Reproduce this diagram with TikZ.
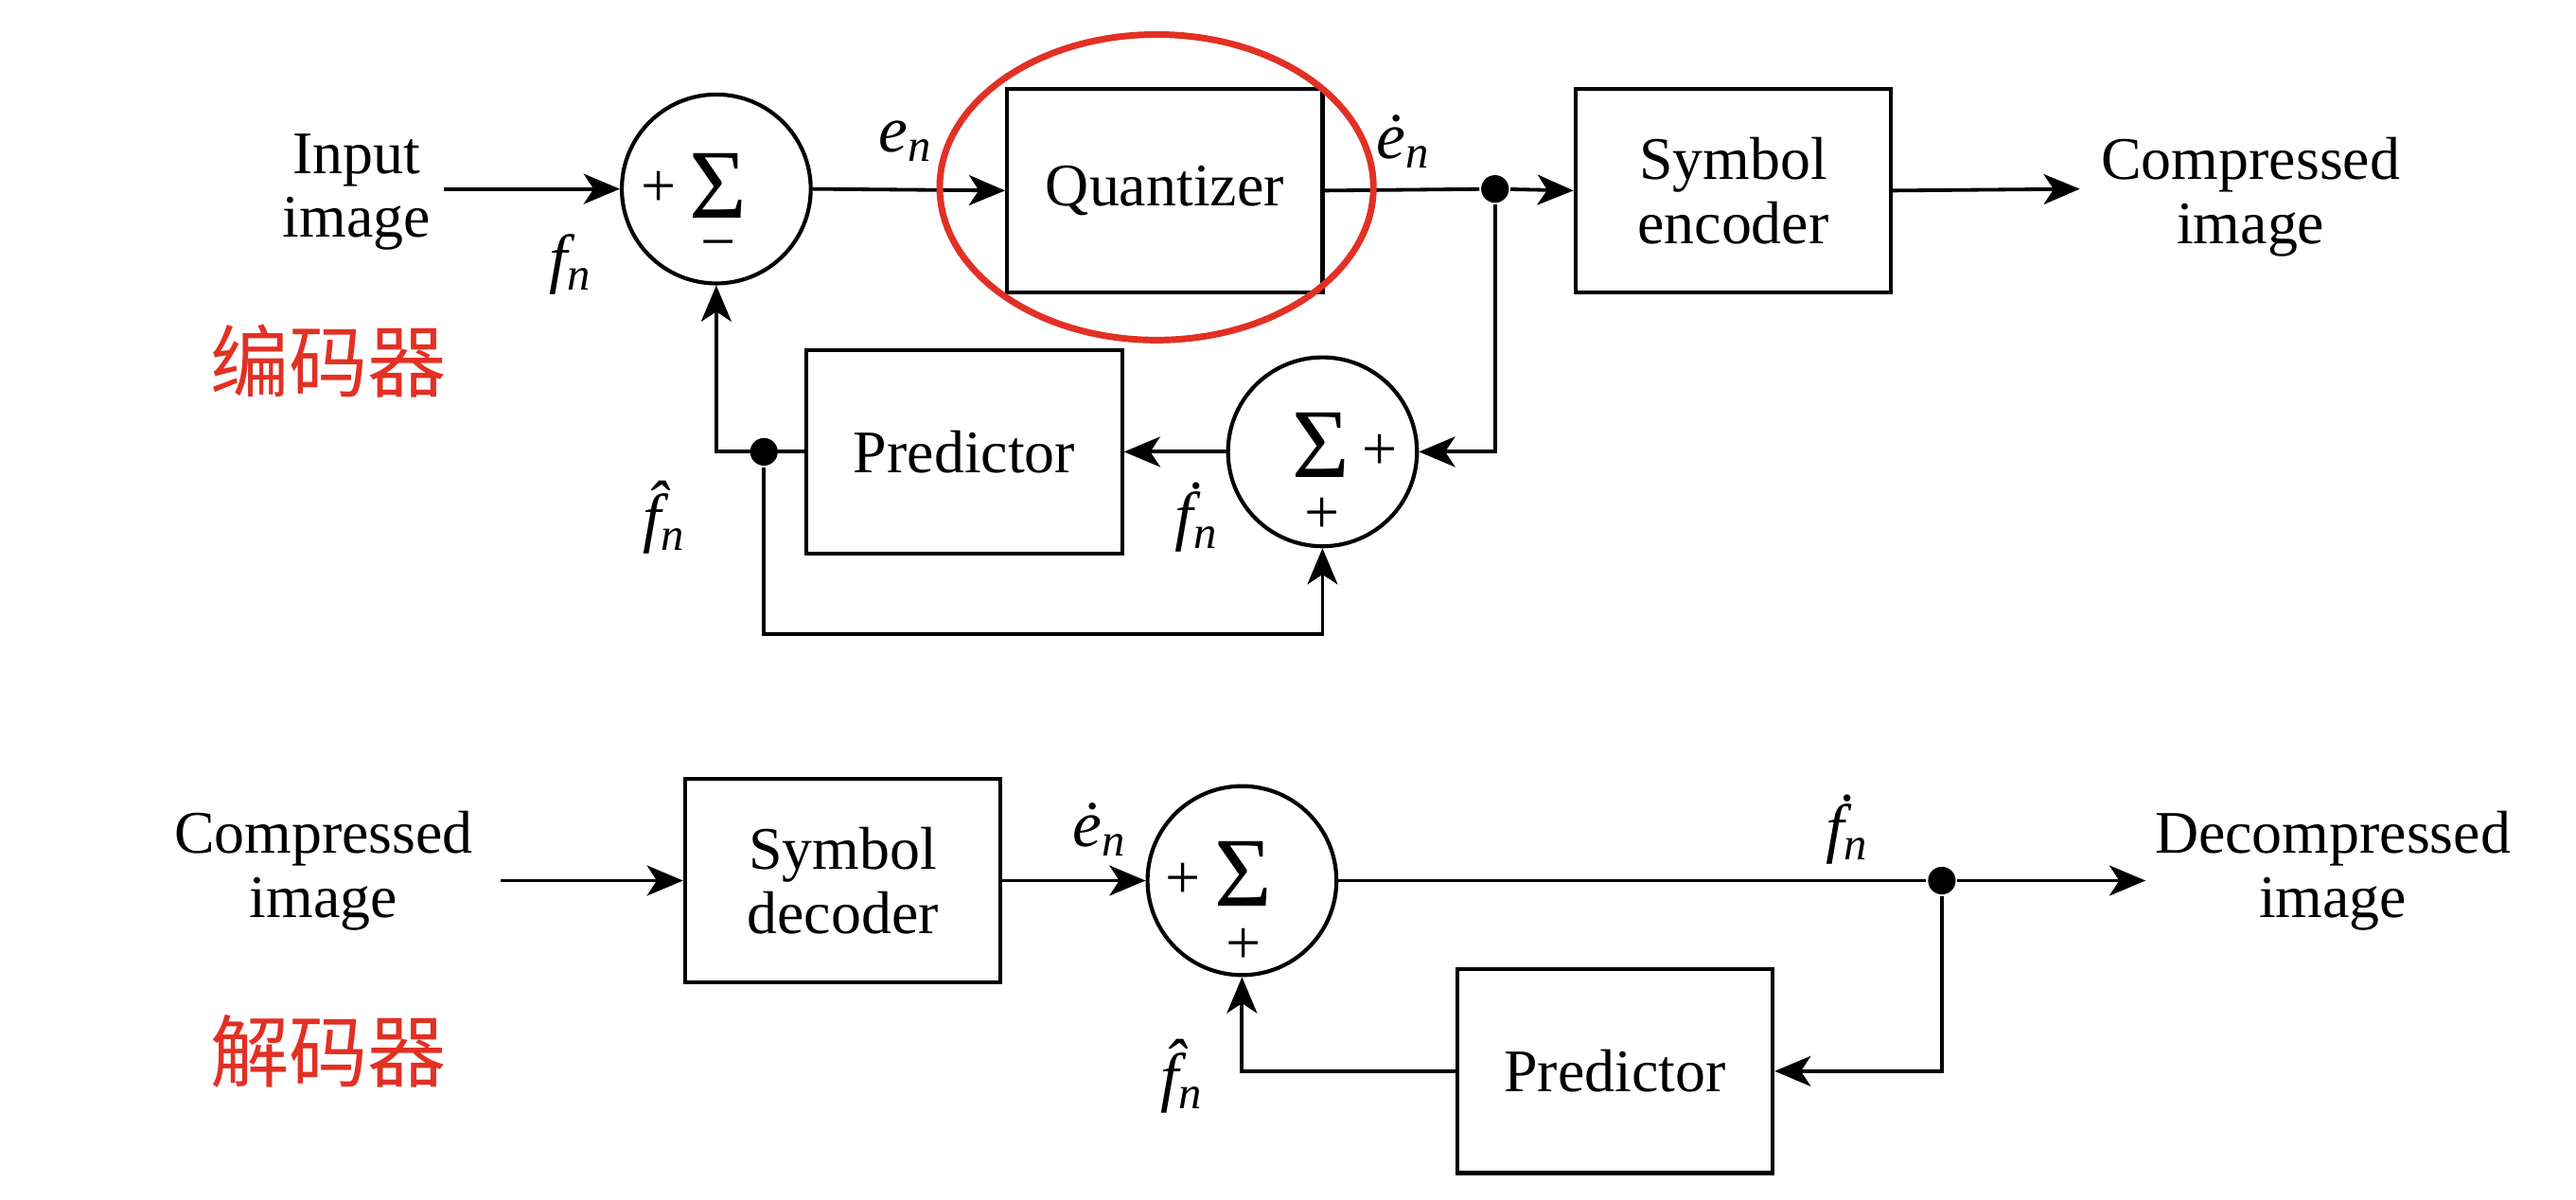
\documentclass[tikz,border=0pt]{standalone}
\usepackage{fontspec}
\setmainfont{Liberation Serif}
\newfontfamily\cjk{Noto Sans CJK SC}
\usetikzlibrary{arrows.meta,shapes.geometric}
\definecolor{myred}{RGB}{226,48,36}
\begin{document}
\begin{tikzpicture}[x=0.25pt,y=-0.25pt,line width=0.55pt,
  blk/.style={draw,line width=0.6pt,minimum width=48pt,minimum height=31pt,inner sep=0pt,align=center,font=\fontsize{9.2}{9.75}\selectfont},
  sumnode/.style={draw,circle,line width=0.6pt,minimum size=28.75pt,inner sep=0pt},
  arr/.style={-{Stealth[length=5.5pt,width=4.6pt,inset=1.5pt]}},
  jdot/.style={circle,fill,inner sep=0pt,minimum width=3.6pt,minimum height=4.2pt},
  txt/.style={align=center,font=\fontsize{9.2}{9.75}\selectfont},
  lab/.style={font=\fontsize{10}{10}\selectfont\itshape,inner sep=0pt},
  sig/.style={font=\fontsize{15}{15}\selectfont,inner sep=0pt},
  sgn/.style={font=\fontsize{9.5}{9.5}\selectfont,inner sep=0pt},
  cn/.style={font=\cjk\fontsize{12}{12}\selectfont,text=myred}]
\useasboundingbox (0,0) rectangle (1568,730);
\fill[white] (0,0) rectangle (1568,730);

% ---------- encoder ----------
\node[txt] (inp) at (217,117) {Input\\image};
\coordinate (inA) at (270,115);
\node[sumnode] (s1) at (436,115) {};
\node[sig] (s1sig) at (437,113) {Σ};
\node[sgn] (s1p) at (401,115) {+};
\node[sgn] (s1m) at (437,153) {−};
\node[blk] (q) at (709,116) {Quantizer};
\node[jdot] (d1) at (910,115) {};
\node[blk] (enc) at (1055,116) {Symbol\\encoder};
\coordinate (outA) at (1266,115);
\node[txt] (out1) at (1370,120) {Compressed\\image};
\node[sumnode] (s2) at (805,275) {};
\node[sig] (s2sig) at (804,271) {Σ};
\node[sgn] (s2p) at (840,275) {+};
\node[sgn] (s2q) at (805,314) {+};
\node[blk] (p1) at (587,275) {Predictor};
\node[jdot] (d2) at (465,275) {};

\draw[arr] (inA) -- (s1.west);
\draw[arr] (s1.east) -- (q.west);
\draw (q.east) -- (d1);
\draw[arr] (d1) -- (enc.west);
\draw[arr] (enc.east) -- (outA);
\draw[arr] (d1) |- (s2.east);
\draw[arr] (s2.west) -- (p1.east);
\draw[arr] (p1.west) -| (s1.south);
\draw[arr] (d2) -- ++(0,111) -| (s2.south);

\node[lab] (lfn) at (348,161) {f\textsubscript{n}};
\node[lab] (len) at (552,86) {e\textsubscript{n}};
\node[lab] (lend) at (855,86) {\.{e}\textsubscript{n}};
\node[lab] (lfd) at (729,315) {\.{f}\textsubscript{n}};
\node[lab] (lfh) at (405,315) {\^{f}\textsubscript{n}};

\draw[myred,line width=1pt] (704,114) ellipse [x radius=132,y radius=93];
\node[cn] (enccn) at (200,220) {编码器};

% ---------- decoder ----------
\node[txt] (in2) at (197,530) {Compressed\\image};
\coordinate (inB) at (305,536);
\node[blk] (dec) at (513,536) {Symbol\\decoder};
\node[sumnode] (s3) at (756,536) {};
\node[sig] (s3sig) at (757,532) {Σ};
\node[sgn] (s3p) at (720,536) {+};
\node[sgn] (s3q) at (757,576) {+};
\node[jdot] (d3) at (1182,536) {};
\coordinate (outB) at (1306,536);
\node[txt] (out2) at (1420,530) {Decompressed\\image};
\node[blk] (p2) at (983,652) {Predictor};

\draw[arr] (inB) -- (dec.west);
\draw[arr] (dec.east) -- (s3.west);
\draw (s3.east) -- (d3);
\draw[arr] (d3) -- (outB);
\draw[arr] (d3) |- (p2.east);
\draw[arr] (p2.west) -| (s3.south);

\node[lab] (len2) at (670,505) {\.{e}\textsubscript{n}};
\node[lab] (lfd2) at (1125,505) {\.{f}\textsubscript{n}};
\node[lab] (lfh2) at (720,655) {\^{f}\textsubscript{n}};
\node[cn] (deccn) at (200,640) {解码器};
\end{tikzpicture}
\end{document}
